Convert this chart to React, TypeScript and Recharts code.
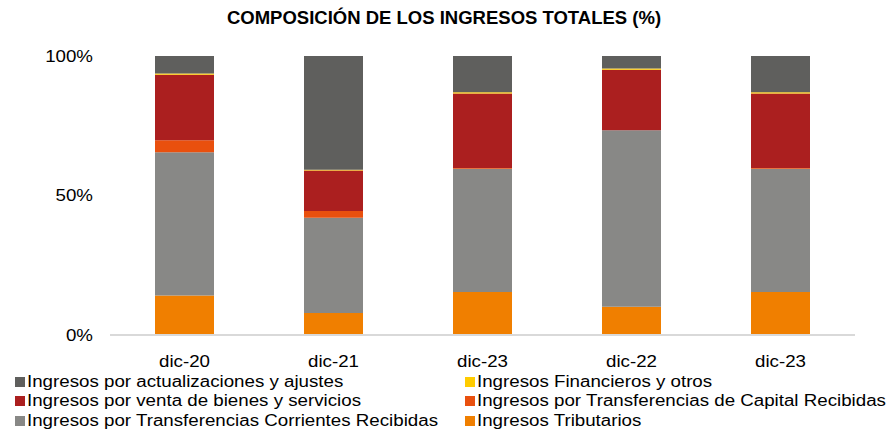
import React from 'react';
import { BarChart, Bar, XAxis, YAxis } from 'recharts';

const categories = ['dic-20', 'dic-21', 'dic-23', 'dic-22', 'dic-23'];
const tributarios = [14.2, 7.9, 15.4, 10.1, 15.4];
const corrientes = [51.3, 34.1, 44.2, 63.3, 44.2];
const capital = [4.3, 2.4, 0.3, 0.0, 0.3];
const venta = [23.5, 14.6, 26.7, 21.7, 26.7];
const financieros = [0.4, 0.2, 0.4, 0.4, 0.4];
const actualizaciones = [6.3, 40.8, 13.0, 4.5, 13.0];
const yTicks = [0, 50, 100];

const series = [
  { key: 'trib', name: 'Ingresos Tributarios', color: '#f07f00', values: tributarios },
  { key: 'corr', name: 'Ingresos por Transferencias Corrientes Recibidas', color: '#888886', values: corrientes },
  { key: 'cap', name: 'Ingresos por Transferencias de Capital Recibidas', color: '#e9500e', values: capital },
  { key: 'venta', name: 'Ingresos por venta de bienes y servicios', color: '#ab1f1f', values: venta },
  { key: 'fin', name: 'Ingresos Financieros y otros', color: '#ffcc00', values: financieros },
  { key: 'act', name: 'Ingresos por actualizaciones y ajustes', color: '#5f5f5d', values: actualizaciones },
];

const data = categories.map((c, i) => {
  const row: Record<string, string | number> = { cat: c, idx: i };
  series.forEach((s) => {
    row[s.key] = s.values[i];
  });
  return row;
});

const legendOrder = ['act', 'fin', 'venta', 'cap', 'corr', 'trib'];

const FONT = 'Liberation Sans, Arial, sans-serif';
const SX = 1.17;

const XTick = (props: any) => {
  const { x, y, payload } = props;
  return (
    <g transform={`translate(${x},${y + 18})`}>
      <text
        transform={`scale(${SX},1)`}
        textAnchor="middle"
        dominantBaseline="central"
        fontFamily={FONT}
        fontSize={16}
        fill="#000"
      >
        {categories[payload.value]}
      </text>
    </g>
  );
};

const YTick = (props: any) => {
  const { y, payload } = props;
  return (
    <g transform={`translate(93,${y})`}>
      <text
        transform={`scale(${SX},1)`}
        textAnchor="end"
        dominantBaseline="central"
        fontFamily={FONT}
        fontSize={16}
        fill="#000"
      >
        {`${payload.value}%`}
      </text>
    </g>
  );
};

const LegendBlock = () => {
  const items = legendOrder.map((k) => series.find((s) => s.key === k)!);
  return (
    <div
      style={{
        position: 'absolute',
        top: 372,
        left: 15,
        display: 'grid',
        gridTemplateColumns: '450px 420px',
        fontFamily: FONT,
        fontSize: 16,
        color: '#000',
      }}
    >
      {items.map((s) => (
        <div key={s.key} style={{ display: 'flex', alignItems: 'center', height: 19.5, whiteSpace: 'nowrap' }}>
          <span style={{ display: 'inline-block', width: 10, height: 10, background: s.color, marginRight: 2, flex: 'none' }} />
          <span style={{ display: 'inline-block', transform: `scaleX(${SX})`, transformOrigin: 'left center' }}>{s.name}</span>
        </div>
      ))}
    </div>
  );
};

export default function App() {
  return (
    <div style={{ position: 'absolute', left: 0, top: 0, width: 888, height: 432, background: '#fff' }}>
      <div
        style={{
          position: 'absolute',
          top: 7,
          left: 0,
          width: 888,
          textAlign: 'center',
          fontFamily: FONT,
          fontWeight: 'bold',
          fontSize: 18.5,
          lineHeight: '22px',
          color: '#000',
        }}
      >
        COMPOSICIÓN DE LOS INGRESOS TOTALES (%)
      </div>
      <BarChart
        width={888}
        height={432}
        data={data}
        margin={{ top: 56, right: 33, bottom: 0, left: 0 }}
      >
        <XAxis
          dataKey="idx"
          height={97}
          axisLine={{ stroke: '#d9d9d9', strokeWidth: 2 }}
          tickLine={false}
          tick={<XTick />}
          interval={0}
        />
        <YAxis
          width={110}
          domain={[0, 100]}
          ticks={yTicks}
          axisLine={false}
          tickLine={false}
          tick={<YTick />}
        />
        {series.map((s) => (
          <Bar
            key={s.key}
            dataKey={s.key}
            name={s.name}
            stackId="a"
            fill={s.color}
            barSize={59}
            isAnimationActive={false}
          />
        ))}
      </BarChart>
      <LegendBlock />
    </div>
  );
}
